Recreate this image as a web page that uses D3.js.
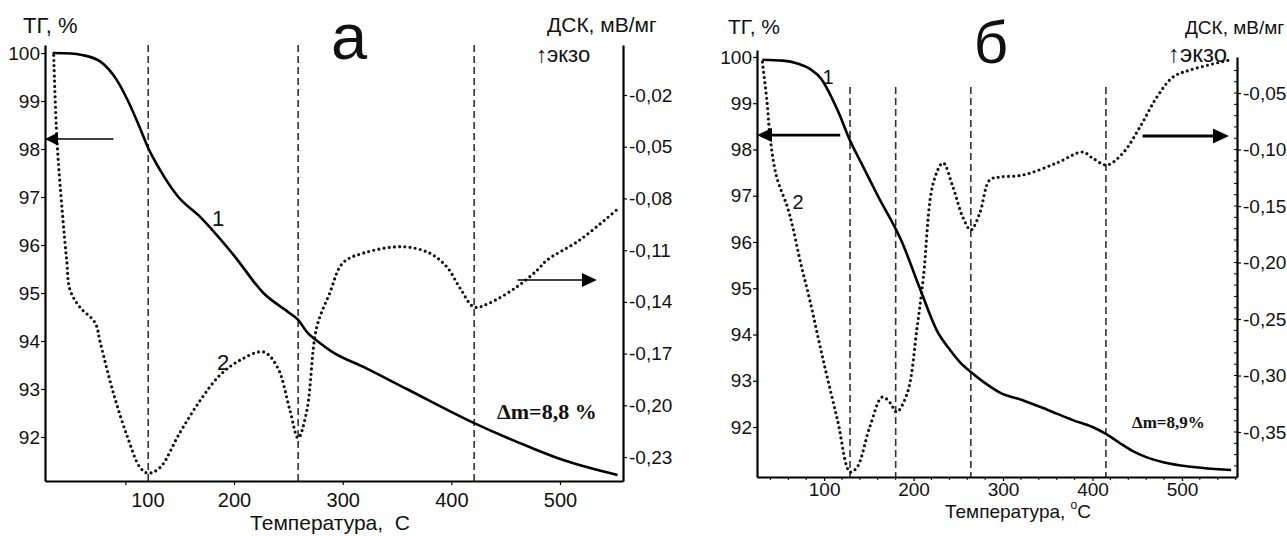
<!DOCTYPE html>
<html>
<head>
<meta charset="utf-8">
<script src="https://cdn.jsdelivr.net/npm/d3@7"></script>
<style>
  body { margin: 0; background: #fff; }
  svg { display: block; font-family: "Liberation Sans", Arial, sans-serif; }
</style>
</head>
<body>
<svg id="chart" width="1287" height="536"></svg>
<script>
// ---------- Panel а ----------
// TG (curve 1): temperature, °C / mass, %
const tempTgA = [33, 50, 60, 77, 92, 102, 113, 121, 132, 148, 169, 200, 227, 250, 259, 267, 279, 290, 320, 359, 421, 472, 503, 553];
const tgA     = [100.0, 99.99, 99.96, 99.82, 99.44, 99.02, 98.46, 98.02, 97.56, 97.02, 96.58, 95.78, 95.0, 94.6, 94.44, 94.19, 93.96, 93.78, 93.45, 93.0, 92.29, 91.79, 91.52, 91.21];
// DSC (curve 2): temperature, °C / mV per mg
const tempDscA = [34, 37, 42, 46, 49, 58, 72, 77, 89, 102, 113.5, 121, 132, 150, 169, 187, 205, 227, 240, 251.5, 259, 267, 276, 288, 300, 319, 355, 380, 396, 408, 421, 435, 460, 479, 488, 518, 552];
const dscA     = [0.003, -0.046, -0.0885, -0.116, -0.133, -0.143, -0.152, -0.164, -0.193, -0.2185, -0.236, -0.2394, -0.236, -0.216, -0.197, -0.1825, -0.174, -0.169, -0.178, -0.203, -0.219, -0.203, -0.155, -0.135, -0.1175, -0.1117, -0.108, -0.1117, -0.1198, -0.132, -0.143, -0.1407, -0.1314, -0.1216, -0.1158, -0.1042, -0.0867];
const peaksA   = [121, 259, 421];
const tgTicksA  = [92, 93, 94, 95, 96, 97, 98, 99, 100];
const dscTicksA = [-0.02, -0.05, -0.08, -0.11, -0.14, -0.17, -0.20, -0.23];
const tTicksA   = [100, 200, 300, 400, 500];

// ---------- Panel б ----------
const tempTgB = [31, 54, 70, 85, 97, 109, 118, 127, 143, 160, 187, 207, 227, 241, 252, 264, 280, 297, 322, 350, 378, 400, 415, 430, 445, 460, 479, 510, 555];
const tgB     = [99.94, 99.92, 99.86, 99.73, 99.52, 99.1, 98.72, 98.28, 97.65, 97.0, 96.0, 95.0, 94.05, 93.66, 93.4, 93.19, 92.95, 92.74, 92.58, 92.37, 92.15, 92.0, 91.85, 91.66, 91.48, 91.35, 91.24, 91.14, 91.07];
const tempDscB = [31, 36, 40, 47, 59, 65, 73, 84, 99, 115, 129, 137, 151, 165, 174, 181, 193, 204, 211, 222, 233, 244, 255, 264, 274, 285, 297, 322, 360, 389, 400, 416, 434, 453, 472, 490, 509, 553];
const dscB     = [-0.0226, -0.0562, -0.0916, -0.1243, -0.1509, -0.1686, -0.1978, -0.2332, -0.2863, -0.3394, -0.3854, -0.381, -0.3456, -0.319, -0.3243, -0.3323, -0.3155, -0.2571, -0.2128, -0.1296, -0.1119, -0.1332, -0.1597, -0.1712, -0.1562, -0.127, -0.1243, -0.1226, -0.1119, -0.1022, -0.1075, -0.1137, -0.1031, -0.0801, -0.0535, -0.0358, -0.0296, -0.0208];
const peaksB   = [129, 180, 264, 415];
const tgTicksB  = [92, 93, 94, 95, 96, 97, 98, 99, 100];
const dscTicksB = [-0.05, -0.10, -0.15, -0.20, -0.25, -0.30, -0.35];
const tTicksB   = [100, 200, 300, 400, 500];

const svg = d3.select("#chart");
const zip = (a, b) => a.map((v, i) => [v, b[i]]);
const comma = v => v.toFixed(2).replace(".", ",");

function drawPanel(p) {
  const g = svg.append("g");
  const x = d3.scaleLinear().domain(p.tDomain).range(p.xRange);
  const yTG = d3.scaleLinear().domain(p.tgDomain).range(p.tgRange);
  const yDSC = d3.scaleLinear().domain(p.dscDomain).range(p.dscRange);

  // vertical dashed markers at the DSC peaks
  g.selectAll("line.peak").data(p.peaks).join("line")
    .attr("class", "peak")
    .attr("x1", d => x(d)).attr("x2", d => x(d))
    .attr("y1", p.dashTop).attr("y2", p.tgRange[0])
    .attr("stroke", "#333").attr("stroke-width", 1.6)
    .attr("stroke-dasharray", "7 4");

  // DSC curve (dotted)
  g.append("path")
    .datum(zip(p.tempDsc, p.dsc))
    .attr("d", d3.line().x(d => x(d[0])).y(d => yDSC(d[1])).curve(d3.curveCatmullRom.alpha(0.5)))
    .attr("fill", "none").attr("stroke", "#111")
    .attr("stroke-width", 3.2).attr("stroke-linecap", "round")
    .attr("stroke-dasharray", "0 5.2");

  // TG curve (solid)
  g.append("path")
    .datum(zip(p.tempTg, p.tg))
    .attr("d", d3.line().x(d => x(d[0])).y(d => yTG(d[1])).curve(d3.curveMonotoneX))
    .attr("fill", "none").attr("stroke", "#000").attr("stroke-width", 2.6);

  // axes
  const styleAxis = (sel, fs) => {
    sel.select(".domain").attr("stroke", "#000").attr("stroke-width", 2.2);
    sel.selectAll(".tick line").attr("stroke", "#000").attr("stroke-width", 1.2);
    sel.selectAll(".tick text").attr("fill", "#111").attr("font-size", fs)
      .attr("font-family", "Liberation Sans, Arial, sans-serif");
  };

  const axL = g.append("g").attr("transform", `translate(${p.xRange[0]},0)`)
    .call(d3.axisLeft(yTG).tickValues(p.tgTicks).tickFormat(d3.format("d"))
      .tickSize(4).tickPadding(1).tickSizeOuter(0));
  styleAxis(axL, 19);

  const axR = g.append("g").attr("transform", `translate(${p.xRange[1]},0)`)
    .call(d3.axisRight(yDSC).tickValues(p.dscTicks).tickFormat(comma)
      .tickSize(4).tickPadding(2).tickSizeOuter(0));
  styleAxis(axR, 19);

  const axB = g.append("g").attr("transform", `translate(0,${p.tgRange[0]})`)
    .call(d3.axisBottom(x).tickValues(p.tTicks).tickFormat(d3.format("d"))
      .tickSize(4).tickPadding(p.xPad).tickSizeOuter(0));
  styleAxis(axB, p.xFont);
  if (p.firstLabelShift) {
    axB.selectAll(".tick text").filter(d => d === p.tTicks[0]).attr("dx", p.firstLabelShift);
  }

  // minor ticks
  if (p.minorT) {
    g.append("g").selectAll("line").data(p.minorT).join("line")
      .attr("x1", d => x(d)).attr("x2", d => x(d))
      .attr("y1", p.tgRange[0]).attr("y2", p.tgRange[0] + 3)
      .attr("stroke", "#000").attr("stroke-width", 1);
  }
  if (p.minorDsc) {
    g.append("g").selectAll("line").data(p.minorDsc).join("line")
      .attr("x1", p.xRange[1] - 3).attr("x2", p.xRange[1])
      .attr("y1", d => yDSC(d)).attr("y2", d => yDSC(d))
      .attr("stroke", "#000").attr("stroke-width", 1);
  }

  // axis arrows
  p.arrows.forEach(a => {
    const sc = a.axis === "tg" ? yTG : yDSC;
    const y = sc(a.level), x0 = x(a.t0), x1 = x(a.t1);
    const dir = Math.sign(x1 - x0);
    g.append("line").attr("x1", x0).attr("x2", x1 - dir * a.head)
      .attr("y1", y).attr("y2", y).attr("stroke", "#000").attr("stroke-width", a.width);
    g.append("path")
      .attr("d", `M${x1},${y} L${x1 - dir * a.head},${y - a.half} L${x1 - dir * a.head},${y + a.half} Z`)
      .attr("fill", "#000");
  });

  // texts
  p.texts.forEach(t => {
    const el = g.append("text").attr("x", t.x).attr("y", t.y)
      .attr("font-size", t.size).attr("fill", "#111")
      .attr("text-anchor", t.anchor || "start")
      .style("white-space", "pre");
    if (t.family) el.attr("font-family", t.family);
    if (t.weight) el.attr("font-weight", t.weight);
    if (t.parts) {
      t.parts.forEach(pt => {
        const ts = el.append("tspan").text(pt.s);
        if (pt.dy) ts.attr("dy", pt.dy);
        if (pt.size) ts.attr("font-size", pt.size);
      });
    } else {
      el.text(t.s);
    }
  });
}

drawPanel({
  tDomain: [26, 558], xRange: [45, 623],
  tgDomain: [91.083, 100.167], tgRange: [481, 45],
  dscDomain: [-0.2439, 0.009], dscRange: [481, 45],
  dashTop: 45, xPad: 8, xFont: 20, firstLabelShift: 22,
  tempTg: tempTgA, tg: tgA, tempDsc: tempDscA, dsc: dscA, peaks: peaksA,
  tgTicks: tgTicksA, dscTicks: dscTicksA, tTicks: tTicksA,
  arrows: [
    { axis: "tg", level: 98.21, t0: 89, t1: 26, head: 13, half: 6.5, width: 1.5 },
    { axis: "dsc", level: -0.1273, t0: 461, t1: 534, head: 15, half: 7, width: 1.6 }
  ],
  texts: [
    { s: "ТГ, %", x: 23, y: 33, size: 22 },
    { s: "ДСК, мВ/мг", x: 547, y: 32, size: 21 },
    { s: "↑экзо", x: 536, y: 62, size: 22 },
    { s: "а", x: 349, y: 59, size: 65, anchor: "middle" },
    { s: "1", x: 218, y: 226, size: 22, anchor: "middle" },
    { s: "2", x: 223, y: 370, size: 22, anchor: "middle" },
    { s: "Δm=8,8 %", x: 497, y: 419, size: 22, weight: "bold", family: "Liberation Serif, Times New Roman, serif" },
    { s: "Температура,  C", x: 330, y: 530, size: 21, anchor: "middle" }
  ]
});

drawPanel({
  tDomain: [25, 561.5], xRange: [757, 1237],
  tgDomain: [90.92, 100.15], tgRange: [477, 50],
  dscDomain: [-0.3898, -0.0181], dscRange: [477, 57],
  dashTop: 87, xPad: 2, xFont: 19,
  tempTg: tempTgB, tg: tgB, tempDsc: tempDscB, dsc: dscB, peaks: peaksB,
  tgTicks: tgTicksB, dscTicks: dscTicksB, tTicks: tTicksB,
  minorT: d3.range(40, 561, 20).filter(t => t % 100 !== 0),
  minorDsc: d3.range(-0.38, -0.02, 0.01).map(v => +v.toFixed(2)),
  arrows: [
    { axis: "tg", level: 98.31, t0: 118, t1: 25, head: 15, half: 7, width: 2.8 },
    { axis: "dsc", level: -0.088, t0: 456, t1: 552.5, head: 16, half: 7.5, width: 2.8 }
  ],
  texts: [
    { s: "ТГ, %", x: 728, y: 34, size: 21 },
    { s: "ДСК, мВ/мг", x: 1185, y: 34, size: 19 },
    { s: "↑экзо", x: 1168, y: 62, size: 24 },
    { s: "б", x: 991, y: 63, size: 60, anchor: "middle" },
    { s: "1", x: 828, y: 84, size: 20, anchor: "middle" },
    { s: "2", x: 798, y: 209, size: 20, anchor: "middle" },
    { s: "Δm=8,9%", x: 1132, y: 428, size: 17, weight: "bold", family: "Liberation Serif, Times New Roman, serif" },
    { x: 1018, y: 518, size: 19, anchor: "middle",
      parts: [{ s: "Температура, " }, { s: "o", dy: -9, size: 12 }, { s: "C", dy: 9 }] }
  ]
});
</script>
</body>
</html>
